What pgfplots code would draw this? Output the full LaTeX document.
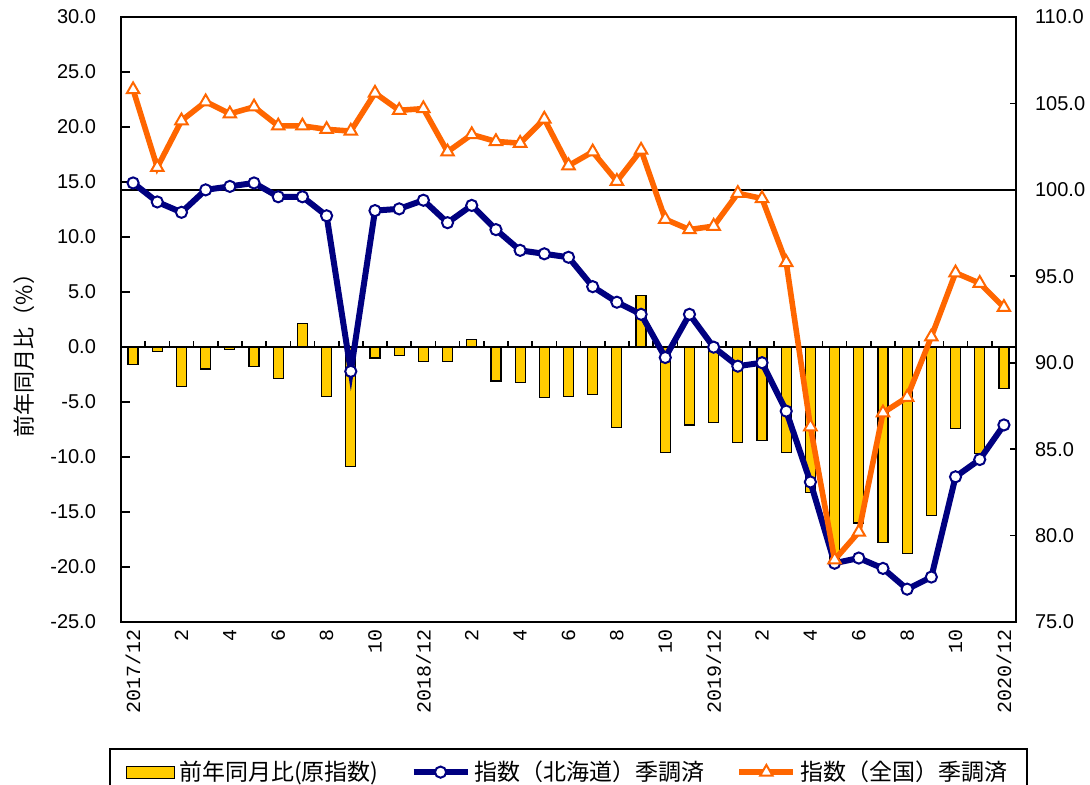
\documentclass[border=0pt]{standalone}
\usepackage{fontspec}
\setmainfont{Liberation Sans}
\newfontfamily\jp{Noto Sans CJK JP}
\newfontfamily\mono{Liberation Mono}
\usepackage{pgfplots}
\usepackage{pgfplotstable}
\pgfplotsset{compat=1.18}
\definecolor{barY}{HTML}{FFCC00}
\definecolor{navy}{HTML}{000080}
\definecolor{orng}{HTML}{FF6600}

\pgfplotstableread{
x y
0 -1.6
1 -0.4
2 -3.6
3 -2.0
4 -0.2
5 -1.8
6 -2.9
7 2.1
8 -4.5
9 -10.9
10 -1.0
11 -0.8
12 -1.3
13 -1.3
14 0.7
15 -3.1
16 -3.2
17 -4.6
18 -4.5
19 -4.3
20 -7.3
21 4.7
22 -9.6
23 -7.1
24 -6.9
25 -8.7
26 -8.5
27 -9.6
28 -13.2
29 -19.3
30 -16.0
31 -17.8
32 -18.8
33 -15.3
34 -7.4
35 -9.7
36 -3.8
}\barsdata

\pgfplotstableread{
x y
0 100.4
1 99.3
2 98.7
3 100.0
4 100.2
5 100.4
6 99.6
7 99.6
8 98.5
9 89.5
10 98.8
11 98.9
12 99.4
13 98.1
14 99.1
15 97.7
16 96.5
17 96.3
18 96.1
19 94.4
20 93.5
21 92.8
22 90.3
23 92.8
24 90.9
25 89.8
26 90.0
27 87.2
28 83.1
29 78.4
30 78.7
31 78.1
32 76.9
33 77.6
34 83.4
35 84.4
36 86.4
}\hokkaidodata

\pgfplotstableread{
x y
0 105.8
1 101.3
2 104.0
3 105.1
4 104.4
5 104.8
6 103.7
7 103.7
8 103.5
9 103.4
10 105.6
11 104.6
12 104.7
13 102.2
14 103.2
15 102.8
16 102.7
17 104.1
18 101.4
19 102.2
20 100.5
21 102.3
22 98.3
23 97.7
24 97.9
25 99.8
26 99.5
27 95.8
28 86.3
29 78.6
30 80.2
31 87.1
32 88.0
33 91.5
34 95.2
35 94.6
36 93.2
}\nationaldata

\begin{document}
\begin{tikzpicture}
\path[use as bounding box] (-60.5pt,-81.5pt) rectangle (484.5pt,311pt);
\begin{axis}[
  at={(0,0)}, anchor=south west,
  scale only axis, width=447.5pt, height=302.5pt,
  xmin=-0.5, xmax=36.5, ymin=-25, ymax=30,
  axis line style={line width=1pt},
  tick align=inside,
  ytick={-25,-20,...,30},
  ytick pos=left,
  major tick length=4.5pt,
  every tick/.style={line width=0.8pt, black},
  /pgf/number format/assume math mode=true,
  y tick label style={/pgf/number format/fixed, /pgf/number format/fixed zerofill, /pgf/number format/precision=1, font=\fontsize{10}{12}\selectfont, xshift=-9pt},
  xtick={0,2,...,36},
  xticklabels={2017/12,2,4,6,8,10,2018/12,2,4,6,8,10,2019/12,2,4,6,8,10,2020/12},
  xtick pos=bottom,
  x tick style={draw=none},
  x tick label style={rotate=90, anchor=east, font=\mono\fontsize{10}{12}\selectfont},
]
\addplot[ybar, bar width=5pt, fill=barY, draw=black, line width=0.6pt] table[x=x,y=y] {\barsdata};
\draw[line width=1pt] (axis cs:-0.5,0) -- (axis cs:36.5,0);
\pgfplotsinvokeforeach{0,...,35}{\draw[line width=0.8pt] (axis cs:#1+0.5,0) -- ([yshift=3pt]axis cs:#1+0.5,0);}
\end{axis}
\begin{axis}[
  at={(0,0)}, anchor=south west,
  scale only axis, width=447.5pt, height=302.5pt,
  xmin=-0.5, xmax=36.5, ymin=75, ymax=110,
  axis x line=none,
  axis y line*=right,
  axis line style={line width=1pt, -},
  tick align=inside,
  ytick={75,80,...,110},
  major tick length=3pt,
  every tick/.style={line width=0.8pt, black},
  /pgf/number format/assume math mode=true,
  y tick label style={/pgf/number format/fixed, /pgf/number format/fixed zerofill, /pgf/number format/precision=1, font=\fontsize{10}{12}\selectfont, xshift=6pt},
  legend columns=3,
  legend style={at={(rel axis cs:0.5,0)}, anchor=north, yshift=-63pt, draw=black, line width=0.8pt,
    font=\jp\fontsize{11.5}{13}\selectfont, inner xsep=8pt, inner ysep=4pt,
    /tikz/every even column/.append style={column sep=14pt}},
  legend image code/.code={\draw[mark repeat=2,mark phase=2,#1] plot coordinates {(0pt,0pt) (13.5pt,0pt) (27pt,0pt)};},
]
\draw[line width=0.9pt] (axis cs:-0.5,100) -- (axis cs:36.5,100);
\addlegendimage{legend image code/.code={\draw[fill=barY, draw=black, line width=0.6pt] (0pt,-3pt) rectangle (24pt,3pt);}}
\addlegendentry{前年同月比(原指数)}
\addplot[navy, line width=3pt, mark=*, mark size=2.8pt, mark options={fill=white, draw=navy, line width=1pt}] table[x=x,y=y] {\hokkaidodata};
\addlegendentry{指数（北海道）季調済}
\addplot[orng, line width=2.8pt, mark=triangle*, mark size=3.6pt, mark options={fill=white, draw=orng, line width=1pt}] table[x=x,y=y] {\nationaldata};
\addlegendentry{指数（全国）季調済}
\end{axis}
\node[rotate=90, font=\jp\fontsize{11}{13}\selectfont] at (-48.5pt,136pt) {前年同月比（\%）};
\end{tikzpicture}
\end{document}
